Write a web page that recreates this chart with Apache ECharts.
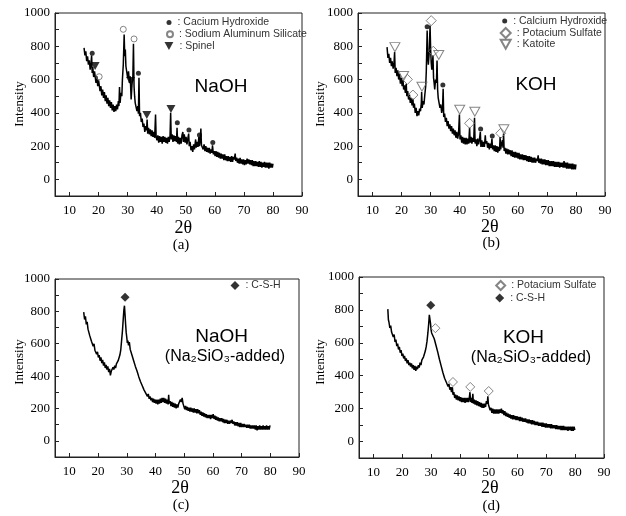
<!DOCTYPE html>
<html><head><meta charset="utf-8">
<script src="https://cdn.jsdelivr.net/npm/echarts@6/dist/echarts.min.js"></script>
<style>html,body{margin:0;padding:0;background:#fff}#c{width:626px;height:516px}</style>
</head><body><div id="c"></div>
<script>
// ---------- data ----------
const xTickValues = [10, 20, 30, 40, 50, 60, 70, 80, 90];
const yTickValues = [0, 200, 400, 600, 800, 1000];
const panelTags = ['(a)', '(b)', '(c)', '(d)'];
const panelTitles = ['NaOH', 'KOH', 'NaOH', 'KOH'];
const panelSubtitles = ['', '', '(Na₂SiO₃-added)', '(Na₂SiO₃-added)'];

// (a) NaOH
const naohPattern = [[15,790],[15.3,745],[15.6,770],[15.9,710],[16.2,740],[16.5,690],[16.8,715],[17.1,660],[17.4,700],[17.6,745],[17.8,640],[18,675],[18.3,615],[18.6,650],[18.9,660],[19.1,580],[19.4,620],[19.7,560],[20,595],[20.3,600],[20.5,530],[20.8,560],[21.1,505],[21.4,540],[21.7,490],[22,525],[22.3,470],[22.6,505],[22.9,455],[23.2,490],[23.5,440],[23.8,475],[24.1,430],[24.4,465],[24.7,415],[25,450],[25.3,405],[25.6,440],[25.9,410],[26.2,450],[26.5,420],[26.8,470],[27,440],[27.2,555],[27.4,460],[27.7,520],[28,500],[28.2,600],[28.5,690],[28.8,870],[29,740],[29.2,780],[29.4,680],[29.7,690],[30,610],[30.3,650],[30.6,580],[30.9,620],[31.2,480],[31.5,570],[31.8,620],[32,815],[32.2,560],[32.4,500],[32.6,460],[32.9,470],[33.2,410],[33.5,440],[33.7,395],[33.9,610],[34.1,380],[34.4,400],[34.7,345],[35,365],[35.3,315],[35.6,335],[35.9,285],[36.2,320],[36.5,295],[36.7,360],[36.9,275],[37.2,310],[37.5,270],[37.8,300],[38.1,260],[38.4,295],[38.7,255],[39,285],[39.3,250],[39.6,390],[39.8,255],[40.1,235],[40.4,265],[40.7,220],[41,260],[41.3,225],[41.6,255],[41.9,215],[42.2,260],[42.5,225],[42.8,255],[43.1,220],[43.4,250],[43.7,215],[44,255],[44.3,225],[44.6,265],[44.8,400],[45,240],[45.3,270],[45.6,225],[45.9,265],[46.2,230],[46.5,260],[46.8,225],[47,310],[47.2,215],[47.5,255],[47.8,210],[48.1,250],[48.4,215],[48.7,265],[49,285],[49.2,225],[49.5,270],[49.8,220],[50.1,255],[50.4,210],[50.7,245],[51,275],[51.2,200],[51.5,225],[51.8,175],[52.1,200],[52.4,165],[52.7,210],[53,180],[53.4,240],[53.6,190],[53.9,225],[54.2,195],[54.5,255],[54.7,200],[55,240],[55.2,305],[55.4,205],[55.7,215],[56,180],[56.3,210],[56.6,170],[56.9,200],[57.2,165],[57.5,190],[57.8,160],[58.1,190],[58.4,155],[58.7,180],[59,160],[59.2,205],[59.5,150],[59.8,170],[60.1,140],[60.4,170],[60.7,135],[61,165],[61.3,130],[61.6,160],[61.9,125],[62.2,155],[62.5,125],[62.8,150],[63.1,115],[63.4,150],[63.7,115],[64,140],[64.3,110],[64.6,140],[64.9,110],[65.2,135],[65.5,105],[65.8,140],[66.1,105],[66.4,135],[66.7,120],[67,155],[67.2,110],[67.5,130],[67.8,100],[68.1,125],[68.4,95],[68.7,130],[69,95],[69.3,120],[69.6,90],[69.9,120],[70.2,85],[70.5,115],[70.8,90],[71.1,125],[71.4,95],[71.7,120],[72,90],[72.3,115],[72.6,85],[72.9,115],[73.2,80],[73.5,110],[73.8,80],[74.1,110],[74.4,80],[74.7,105],[75,75],[75.3,110],[75.6,75],[75.9,105],[76.2,70],[76.5,100],[76.8,75],[77.1,105],[77.4,70],[77.7,100],[78,70],[78.3,100],[78.6,65],[78.9,100],[79.2,70],[79.5,95],[79.8,70],[80,95]];
const naohCaOH = [[17.8,758],[33.7,638],[47.1,341],[51.1,297],[54.7,267],[59.3,221]];
const naohNaAlSi = [[20.2,617],[28.5,902],[32.2,844]];
const naohSpinel = [[18.8,682],[31.0,591],[36.6,387],[44.9,423]];

// (b) KOH
const kohPattern = [[15,795],[15.3,730],[15.6,755],[15.9,700],[16.2,730],[16.5,680],[16.8,710],[17.1,665],[17.4,700],[17.6,765],[17.8,640],[18.1,670],[18.4,620],[18.7,655],[19,600],[19.3,635],[19.6,575],[19.9,610],[20.2,560],[20.5,595],[20.7,540],[21,565],[21.3,520],[21.6,575],[21.8,500],[22.1,530],[22.4,480],[22.7,510],[23,460],[23.3,490],[23.6,445],[23.9,485],[24.1,430],[24.4,455],[24.7,400],[25,430],[25.3,380],[25.6,410],[25.9,385],[26.2,425],[26.5,410],[26.8,460],[26.9,525],[27.1,430],[27.4,470],[27.7,450],[28,510],[28.3,560],[28.5,650],[28.8,895],[29,740],[29.2,690],[29.5,760],[29.8,925],[30,780],[30.2,700],[30.4,660],[30.6,690],[30.8,745],[31,610],[31.2,580],[31.4,540],[31.7,600],[32,580],[32.2,715],[32.4,540],[32.6,490],[32.9,480],[33.2,430],[33.5,450],[33.8,400],[34.1,430],[34.3,545],[34.5,375],[34.8,395],[35.1,345],[35.4,370],[35.7,320],[36,350],[36.3,305],[36.6,330],[36.9,290],[37.2,320],[37.5,275],[37.8,305],[38.1,265],[38.4,295],[38.7,250],[39,285],[39.3,245],[39.6,275],[39.9,390],[40.1,240],[40.4,265],[40.7,220],[41,255],[41.3,215],[41.6,250],[41.9,210],[42.2,250],[42.5,210],[42.8,245],[43.1,215],[43.4,310],[43.6,220],[43.9,255],[44.2,215],[44.5,250],[44.8,225],[45.1,370],[45.3,215],[45.6,240],[45.9,200],[46.2,245],[46.5,210],[46.8,240],[47.1,285],[47.3,195],[47.6,235],[47.9,195],[48.2,225],[48.5,195],[48.8,265],[49,215],[49.3,230],[49.6,190],[49.9,220],[50.2,180],[50.5,215],[50.8,190],[51.1,245],[51.3,180],[51.6,205],[51.9,170],[52.2,205],[52.5,165],[52.8,200],[53.1,160],[53.4,195],[53.7,170],[53.9,255],[54.1,180],[54.4,215],[54.7,235],[54.9,190],[55.1,275],[55.3,170],[55.6,190],[55.9,155],[56.2,185],[56.5,150],[56.8,180],[57.1,150],[57.4,175],[57.7,140],[58,175],[58.3,135],[58.6,165],[58.9,130],[59.2,165],[59.5,130],[59.8,160],[60.1,125],[60.4,160],[60.7,120],[61,150],[61.3,120],[61.6,150],[61.9,115],[62.2,145],[62.5,115],[62.8,145],[63.1,110],[63.4,140],[63.7,105],[64,140],[64.3,105],[64.6,135],[64.9,100],[65.2,130],[65.5,100],[65.8,130],[66.1,100],[66.4,125],[66.7,110],[67,145],[67.2,100],[67.5,125],[67.8,95],[68.1,125],[68.4,90],[68.7,120],[69,90],[69.3,120],[69.6,85],[69.9,115],[70.2,85],[70.5,115],[70.8,80],[71.1,110],[71.4,80],[71.7,110],[72,80],[72.3,110],[72.6,75],[72.9,105],[73.2,75],[73.5,105],[73.8,75],[74.1,105],[74.4,70],[74.7,100],[75,75],[75.3,100],[75.6,70],[75.9,110],[76.2,70],[76.5,100],[76.8,65],[77.1,100],[77.4,65],[77.7,95],[78,65],[78.3,95],[78.6,60],[78.9,95],[79.2,60],[79.5,90],[79.8,60],[80,90]];
const kohCaOH = [[28.8,918],[34.2,567],[47.2,303],[51.2,261]];
const kohK2SO4 = [[22.0,601],[23.9,507],[30.2,954],[30.9,770],[43.4,337],[54.1,277]];
const kohKatoite = [[17.7,795],[20.7,621],[27.0,557],[32.8,748],[40.0,419],[45.2,407],[55.2,301]];

// (c) NaOH (Na2SiO3-added)
const naohSiPattern = [[15,795],[15.3,750],[15.6,770],[15.9,720],[16.2,735],[16.5,690],[16.8,700],[17.1,650],[17.4,660],[17.7,615],[18,625],[18.3,585],[18.6,600],[18.9,560],[19.2,570],[19.5,535],[19.8,550],[20.1,515],[20.4,530],[20.7,495],[21,515],[21.3,480],[21.6,500],[21.9,465],[22.2,485],[22.5,450],[22.8,470],[23.1,440],[23.4,460],[23.7,425],[24,445],[24.3,405],[24.6,430],[24.9,420],[25.2,455],[25.5,440],[25.8,465],[26.1,450],[26.4,475],[26.7,465],[27,495],[27.3,490],[27.6,530],[27.9,560],[28.2,620],[28.5,680],[28.8,760],[29,810],[29.2,835],[29.4,780],[29.6,720],[29.8,670],[30,640],[30.2,605],[30.4,620],[30.6,590],[30.9,610],[31.2,565],[31.5,575],[31.8,530],[32.1,540],[32.4,495],[32.7,505],[33,460],[33.3,470],[33.6,430],[33.9,435],[34.2,395],[34.5,405],[34.8,365],[35.1,375],[35.4,340],[35.7,350],[36,315],[36.3,325],[36.6,295],[36.9,305],[37.2,275],[37.5,290],[37.8,260],[38.1,275],[38.4,250],[38.7,265],[39,240],[39.3,260],[39.6,235],[39.9,255],[40.2,230],[40.5,255],[40.8,225],[41.1,255],[41.4,230],[41.7,260],[42,235],[42.3,265],[42.6,240],[42.9,265],[43.2,235],[43.5,260],[43.8,230],[44.1,255],[44.4,225],[44.6,285],[44.8,230],[45.1,245],[45.4,215],[45.7,240],[46,210],[46.3,235],[46.6,205],[46.9,230],[47.2,200],[47.5,225],[47.8,205],[48.1,230],[48.4,225],[48.7,255],[49,240],[49.3,265],[49.6,230],[49.9,225],[50.2,195],[50.5,215],[50.8,190],[51.1,210],[51.4,185],[51.7,205],[52,180],[52.3,205],[52.6,180],[52.9,200],[53.2,175],[53.5,200],[53.8,175],[54.1,195],[54.4,170],[54.7,195],[55,170],[55.3,190],[55.6,160],[55.9,180],[56.2,155],[56.5,175],[56.8,150],[57.1,170],[57.4,145],[57.7,165],[58,140],[58.3,160],[58.6,140],[58.9,160],[59.2,135],[59.5,160],[59.8,140],[60.1,165],[60.4,135],[60.7,155],[61,130],[61.3,150],[61.6,125],[61.9,145],[62.2,120],[62.5,140],[62.8,120],[63.1,140],[63.4,115],[63.7,135],[64,110],[64.3,130],[64.6,110],[64.9,130],[65.2,105],[65.5,125],[65.8,105],[66.1,125],[66.4,110],[66.7,130],[67,105],[67.3,120],[67.6,95],[67.9,115],[68.2,95],[68.5,115],[68.8,90],[69.1,110],[69.4,85],[69.7,110],[70,85],[70.3,105],[70.6,85],[70.9,105],[71.2,85],[71.5,100],[71.8,80],[72.1,100],[72.4,80],[72.7,100],[73,75],[73.3,95],[73.6,75],[73.9,95],[74.2,75],[74.5,95],[74.8,70],[75.1,95],[75.4,65],[75.7,90],[76,70],[76.3,95],[76.6,70],[76.9,90],[77.2,70],[77.5,95],[77.8,70],[78.1,90],[78.4,70],[78.7,95],[79,70],[79.3,90],[79.6,70],[79.9,95]];
const naohSiCSH = [[29.4,887]];

// (d) KOH (Na2SiO3-added)
const kohSiPattern = [[15,805],[15.2,740],[15.4,725],[15.7,690],[16,705],[16.3,665],[16.6,675],[16.9,635],[17.2,650],[17.5,605],[17.8,620],[18.1,580],[18.4,595],[18.7,560],[19,575],[19.3,540],[19.6,555],[19.9,520],[20.2,535],[20.5,505],[20.8,520],[21.1,490],[21.4,505],[21.7,475],[22,495],[22.3,465],[22.6,480],[22.9,455],[23.2,475],[23.5,445],[23.8,465],[24.1,435],[24.4,460],[24.7,430],[25,455],[25.3,440],[25.6,465],[25.9,450],[26.2,480],[26.5,465],[26.8,495],[27.1,490],[27.4,515],[27.7,520],[28,550],[28.3,575],[28.6,610],[28.9,660],[29.2,720],[29.4,770],[29.6,780],[29.8,720],[30,680],[30.2,660],[30.5,650],[30.8,660],[31.1,625],[31.4,630],[31.7,585],[32,590],[32.3,545],[32.6,545],[32.9,500],[33.2,505],[33.5,460],[33.8,465],[34.1,420],[34.4,425],[34.7,385],[35,395],[35.3,360],[35.6,370],[35.9,335],[36.2,350],[36.5,315],[36.8,330],[37.1,300],[37.4,330],[37.6,285],[37.9,300],[38.2,265],[38.5,285],[38.8,255],[39.1,280],[39.4,250],[39.7,275],[40,245],[40.3,270],[40.6,240],[40.9,265],[41.2,240],[41.5,265],[41.8,235],[42.1,265],[42.4,240],[42.7,265],[43,240],[43.3,270],[43.5,300],[43.7,240],[44,265],[44.2,235],[44.5,290],[44.7,230],[45,255],[45.3,225],[45.6,250],[45.9,220],[46.2,245],[46.5,215],[46.8,240],[47.1,210],[47.4,235],[47.7,205],[48,230],[48.3,205],[48.6,230],[48.9,210],[49.2,245],[49.5,230],[49.7,275],[49.9,225],[50.2,215],[50.5,190],[50.8,205],[51.1,175],[51.4,200],[51.7,170],[52,195],[52.3,170],[52.6,195],[52.9,170],[53.2,195],[53.5,170],[53.8,195],[54.1,175],[54.4,200],[54.7,170],[55,190],[55.3,160],[55.6,185],[55.9,155],[56.2,175],[56.5,150],[56.8,170],[57.1,145],[57.4,165],[57.7,140],[58,160],[58.3,135],[58.6,160],[58.9,135],[59.2,155],[59.5,130],[59.8,155],[60.1,130],[60.4,150],[60.7,125],[61,150],[61.3,125],[61.6,145],[61.9,120],[62.2,140],[62.5,120],[62.8,140],[63.1,115],[63.4,135],[63.7,110],[64,135],[64.3,110],[64.6,130],[64.9,105],[65.2,130],[65.5,105],[65.8,125],[66.1,100],[66.4,120],[66.7,100],[67,120],[67.3,95],[67.6,115],[67.9,95],[68.2,115],[68.5,90],[68.8,115],[69.1,90],[69.4,110],[69.7,85],[70,110],[70.3,85],[70.6,105],[70.9,85],[71.2,105],[71.5,80],[71.8,105],[72.1,80],[72.4,100],[72.7,80],[73,100],[73.3,75],[73.6,100],[73.9,75],[74.2,95],[74.5,75],[74.8,95],[75.1,70],[75.4,95],[75.7,70],[76,95],[76.3,70],[76.6,90],[76.9,70],[77.2,90],[77.5,65],[77.8,90],[78.1,70],[78.4,90],[78.7,65],[79,90],[79.3,65],[79.6,90],[79.9,70]];
const kohSiCSH = [[29.9,829]];
const kohSiK2SO4 = [[31.5,689],[37.6,362],[43.6,332],[50.0,307]];

// ---------- layout ----------
const grids = [
  {left:55, top:13, width:247, height:183},
  {left:358, top:13, width:247, height:183},
  {left:55, top:279, width:244, height:178},
  {left:359, top:277, width:245, height:181}
];
const serif = 'Liberation Serif, Times New Roman, serif';
const sans = 'Liberation Sans, Arial, sans-serif';
const downTriangle = 'path://M0,0L10,0L5,9Z';

const chart = echarts.init(document.getElementById('c'), null, {renderer:'canvas'});

const xAxes = grids.map((g,i)=>({
  type:'value', gridIndex:i, min:5, max:90,
  axisLine:{show:true, onZero:false, lineStyle:{color:'#222', width:1}},
  axisTick:{show:true, inside:true, length:4, customValues:xTickValues, lineStyle:{color:'#222'}},
  axisLabel:{show:true, customValues:xTickValues, margin:8, fontFamily:serif, fontSize:13, color:'#000'},
  splitLine:{show:false}
}));
const yAxes = grids.map((g,i)=>({
  type:'value', gridIndex:i, min:-100, max:1000, interval:100,
  axisLine:{show:true, lineStyle:{color:'#222', width:1}},
  axisTick:{show:true, inside:true, length:4, lineStyle:{color:'#222'}},
  axisLabel:{show:true, margin:5, fontFamily:serif, fontSize:13, color:'#000',
    formatter:v => (yTickValues.indexOf(v) >= 0 ? String(v) : '')},
  splitLine:{show:false}
}));

function curve(name, data, i){
  return {name, type:'line', xAxisIndex:i, yAxisIndex:i, data, showSymbol:false, silent:true,
    lineStyle:{color:'#000', width:1.5}, z:2};
}
function marks(name, data, i, symbol, size, filled){
  return {name, type:'scatter', xAxisIndex:i, yAxisIndex:i, data, symbol, symbolSize:size,
    silent:true, z:5,
    itemStyle: filled ? {color:'#000'} : {color:'rgba(255,255,255,0)', borderColor:'#666', borderWidth:1}};
}

const series = [
  curve('NaOH pattern', naohPattern, 0),
  marks('Cacium Hydroxide', naohCaOH, 0, 'circle', 5, true),
  marks('Sodium Aluminum Silicate', naohNaAlSi, 0, 'circle', 6, false),
  marks('Spinel', naohSpinel, 0, downTriangle, [9,8], true),
  curve('KOH pattern', kohPattern, 1),
  marks('Calcium Hydroxide', kohCaOH, 1, 'circle', 5, true),
  marks('Potacium Sulfate', kohK2SO4, 1, 'diamond', 10, false),
  marks('Katoite', kohKatoite, 1, downTriangle, [10,9], false),
  curve('NaOH (Na2SiO3-added) pattern', naohSiPattern, 2),
  marks('C-S-H', naohSiCSH, 2, 'diamond', 9, true),
  curve('KOH (Na2SiO3-added) pattern', kohSiPattern, 3),
  marks('Potacium Sulfate ', kohSiK2SO4, 3, 'diamond', 9, false),
  marks('C-S-H ', kohSiCSH, 3, 'diamond', 9, true)
];

function leg(name, cx, cy, w, icon){
  const item = icon ? {name, icon} : {name};
  return {show:true, orient:'vertical', data:[item], left:cx - w/2, top:cy - 6.3, padding:0,
    itemWidth:w, itemHeight:icon ? w - 1 : w, itemGap:0, selectedMode:false,
    formatter:n => ': ' + n.trim(),
    textStyle:{fontFamily:sans, fontSize:10.5, color:'#333', padding:[0,0,0,1]}};
}
const legends = [
  leg('Cacium Hydroxide', 169, 23.3, 5),
  leg('Sodium Aluminum Silicate', 169, 35, 6),
  leg('Spinel', 169, 46.7, 9, downTriangle),
  leg('Calcium Hydroxide', 504.7, 21.7, 5),
  leg('Potacium Sulfate', 504.7, 33.3, 10),
  leg('Katoite', 504.7, 45, 10, downTriangle),
  leg('C-S-H', 235, 286.3, 9),
  leg('Potacium Sulfate ', 499.7, 286.3, 9),
  leg('C-S-H ', 499.7, 298.7, 9)
];

function txt(text, x, y, font, rot){
  return {type:'text', x, y, rotation: rot||0, silent:true, z:10,
    style:{text, font, fill:'#000', textAlign:'center', textVerticalAlign:'middle'}};
}
const axisNamePos = [[20,104,183.3,228.3,181,245],[320.7,104,489.7,227,491.3,243.3],[20,362,180,488,181,504.7],[320.7,362,489.7,488,491.3,506.3]];
const titlePos = [[221,86.7,0,0],[536,85,0,0],[221.7,336.3,225,357],[523.5,338,531,358]];
const graphic = [];
axisNamePos.forEach((p,i)=>{
  graphic.push(txt('Intensity', p[0], p[1], '13px ' + serif, Math.PI/2));
  graphic.push(txt('2θ', p[2], p[3], '18px ' + serif));
  graphic.push(txt(panelTags[i], p[4], p[5], '15px ' + serif));
  const t = titlePos[i];
  graphic.push(txt(panelTitles[i], t[0], t[1], '19px ' + sans));
  if (panelSubtitles[i]) graphic.push(txt(panelSubtitles[i], t[2], t[3], '16px ' + sans));
});

chart.setOption({
  animation:false,
  backgroundColor:'#fff',
  grid: grids.map(g=>Object.assign({show:true, borderColor:'#222', borderWidth:1, backgroundColor:'transparent'}, g)),
  xAxis:xAxes, yAxis:yAxes, legend:legends, series, graphic
});
</script></body></html>
